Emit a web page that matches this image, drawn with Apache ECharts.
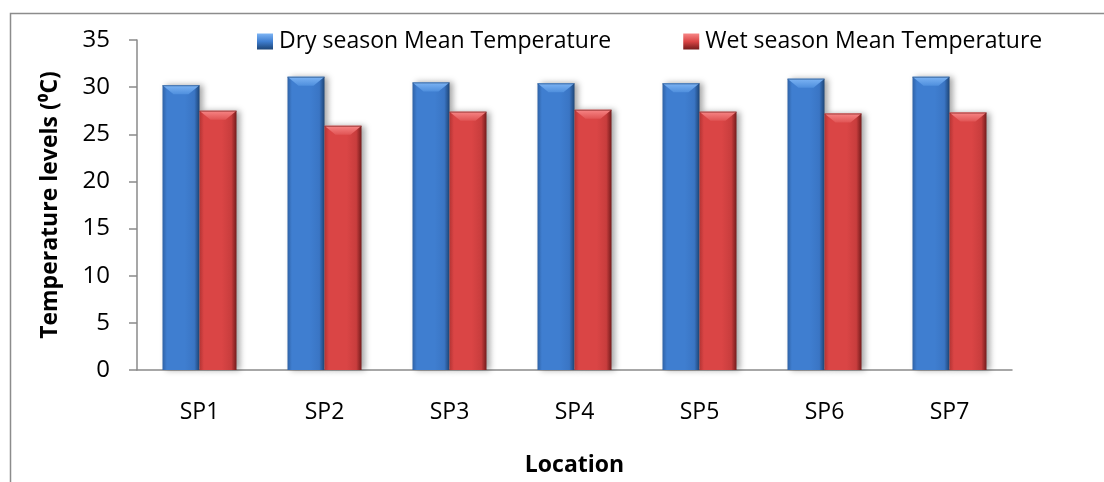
<!DOCTYPE html>
<html>
<head>
<meta charset="utf-8">
<script src="https://cdn.jsdelivr.net/npm/echarts@6/dist/echarts.min.js"></script>
<style>
  html, body { margin: 0; padding: 0; background: #ffffff; }
  #chart { width: 1104px; height: 482px; }
</style>
</head>
<body>
<div id="chart"></div>
<script>
// Mean temperature per sampling point, dry vs wet season (°C)
const categories = ['SP1', 'SP2', 'SP3', 'SP4', 'SP5', 'SP6', 'SP7'];
const dryMean = [30.2, 31.1, 30.5, 30.4, 30.4, 30.9, 31.1];
const wetMean = [27.5, 25.9, 27.4, 27.6, 27.4, 27.2, 27.3];
const seriesNames = ['Dry season Mean Temperature', 'Wet season Mean Temperature'];
const yTicks = { min: 0, max: 35, interval: 5 };

const FONT = '"Open Sans", "Noto Sans", sans-serif';
const BAR_W = 37;

const palette = [
  { edgeL: '#2f62a6', mid: '#3f7ed0', mid2: '#3a75c4', edgeR: '#1d4576', cap: '#7db4f4', capLow: '#4f8fdd' },
  { edgeL: '#b43434', mid: '#da4545', mid2: '#c83d3d', edgeR: '#741b1b', cap: '#f78686', capLow: '#e05454' }
];

function bodyGradient(p) {
  return new echarts.graphic.LinearGradient(0, 0, 1, 0, [
    { offset: 0, color: p.edgeL },
    { offset: 0.12, color: p.mid },
    { offset: 0.6, color: p.mid },
    { offset: 0.86, color: p.mid2 },
    { offset: 1, color: p.edgeR }
  ]);
}

// bevel caps drawn on top of each bar
const capData = [];
dryMean.forEach((v, i) => capData.push([i, v, 0]));
wetMean.forEach((v, i) => capData.push([i, v, 1]));

function renderCap(params, api) {
  const idx = api.value(0);
  const val = api.value(1);
  const s = api.value(2);
  const top = api.coord([idx, val]);
  const cx = top[0];
  const x0 = s === 0 ? cx - BAR_W : cx;
  const x1 = x0 + BAR_W;
  const y = top[1];
  const p = palette[s];
  const inset = 11, depth = 9;
  return {
    type: 'group',
    children: [
      {
        type: 'polygon',
        shape: { points: [[x0, y], [x1, y], [x1 - inset, y + depth], [x0 + inset, y + depth]] },
        style: {
          fill: new echarts.graphic.LinearGradient(0, 0, 0, 1, [
            { offset: 0, color: p.cap },
            { offset: 1, color: p.capLow }
          ])
        }
      },
      {
        type: 'line',
        shape: { x1: x0, y1: y + 0.5, x2: x1, y2: y + 0.5 },
        style: { stroke: p.edgeR, lineWidth: 1, opacity: 0.6 }
      }
    ]
  };
}

const chart = echarts.init(document.getElementById('chart'), null, { renderer: 'canvas' });

chart.setOption({
  animation: false,
  backgroundColor: '#ffffff',
  textStyle: { fontFamily: FONT },
  graphic: [{
    type: 'rect',
    shape: { x: 10.5, y: 13.5, width: 1100, height: 490 },
    style: { fill: 'none', stroke: '#8c8c8c', lineWidth: 1.5 },
    silent: true,
    z: -10
  }],
  legend: {
    left: 252,
    top: 25,
    itemWidth: 16,
    itemHeight: 16,
    itemGap: 72,
    textStyle: { fontFamily: FONT, fontSize: 23, color: '#000000', padding: [0, 0, 0, 1] },
    data: seriesNames.map((n, k) => ({
      name: n,
      icon: 'rect',
      itemStyle: {
        color: new echarts.graphic.LinearGradient(0, 0, 0, 1, [
          { offset: 0, color: palette[k].cap },
          { offset: 0.5, color: palette[k].mid },
          { offset: 1, color: palette[k].edgeR }
        ])
      }
    }))
  },
  grid: { left: 137, right: 92, top: 40, bottom: 107, containLabel: false },
  xAxis: {
    type: 'category',
    data: categories,
    name: 'Location',
    nameLocation: 'middle',
    nameGap: 84,
    nameTextStyle: { fontFamily: FONT, fontSize: 23, fontWeight: 'bold', color: '#000000' },
    axisLine: { lineStyle: { color: '#8a8a8a', width: 1.5 } },
    axisTick: { show: false },
    axisLabel: { margin: 31, fontFamily: FONT, fontSize: 23, color: '#000000' }
  },
  yAxis: {
    type: 'value',
    min: yTicks.min,
    max: yTicks.max,
    interval: yTicks.interval,
    name: 'Temperature levels (\u2070C)',
    nameLocation: 'middle',
    nameRotate: 90,
    nameGap: 75,
    nameTextStyle: { fontFamily: FONT, fontSize: 23, fontWeight: 'bold', color: '#000000' },
    axisLine: { show: true, lineStyle: { color: '#8a8a8a', width: 1.5 } },
    axisTick: { show: true, inside: false, length: 8, lineStyle: { color: '#8a8a8a', width: 1.5 } },
    axisLabel: { margin: 27, fontFamily: FONT, fontSize: 24, color: '#000000' },
    splitLine: { show: false }
  },
  series: [
    {
      name: seriesNames[0],
      type: 'bar',
      data: dryMean,
      barWidth: BAR_W,
      barGap: '0%',
      itemStyle: {
        color: bodyGradient(palette[0]),
        shadowColor: 'rgba(0,0,0,0.35)',
        shadowBlur: 6,
        shadowOffsetX: 3,
        shadowOffsetY: 0
      },
      emphasis: { disabled: true }
    },
    {
      name: seriesNames[1],
      type: 'bar',
      data: wetMean,
      barWidth: BAR_W,
      barGap: '0%',
      itemStyle: {
        color: bodyGradient(palette[1]),
        shadowColor: 'rgba(0,0,0,0.35)',
        shadowBlur: 6,
        shadowOffsetX: 3,
        shadowOffsetY: 0
      },
      emphasis: { disabled: true }
    },
    {
      type: 'custom',
      silent: true,
      data: capData,
      renderItem: renderCap,
      encode: { x: 0, y: 1 },
      z: 5
    }
  ]
});
</script>
</body>
</html>
